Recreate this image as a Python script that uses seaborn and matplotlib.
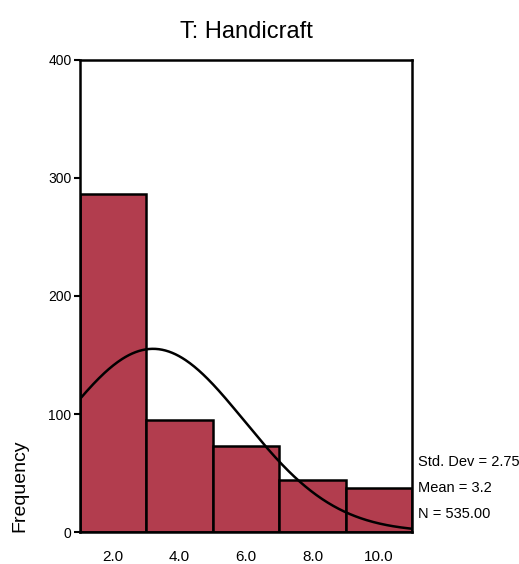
import numpy as np
import pandas as pd
import matplotlib
matplotlib.use("Agg")
import matplotlib.pyplot as plt
import seaborn as sns

centros = [2.0, 4.0, 6.0, 8.0, 10.0]
frequencias = [286, 95, 73, 44, 37]
rotulos_x = ["2.0", "4.0", "6.0", "8.0", "10.0"]
ticks_y = [0, 100, 200, 300, 400]

media = 3.2
desvio = 2.75
n_total = 535.0
largura_bin = 2.0

sns.set_theme(style="white")
plt.rcParams["font.family"] = ["Liberation Sans", "DejaVu Sans"]
plt.rcParams["text.color"] = "black"
plt.rcParams["axes.labelcolor"] = "black"
plt.rcParams["xtick.color"] = "black"
plt.rcParams["ytick.color"] = "black"

fig = plt.figure(figsize=(5.19, 5.64), dpi=100)
ax = fig.add_axes([0.154, 0.0567, 0.640, 0.837])

df = pd.DataFrame({"valor": centros, "freq": frequencias})
sns.histplot(data=df, x="valor", weights="freq", binwidth=largura_bin, binrange=(1, 11),
             color="#b23d4e", alpha=1, edgecolor="black", linewidth=1.8, ax=ax)

# curva normal ajustada (media, desvio, N)
xs = np.linspace(1, 11, 300)
ys = n_total * largura_bin / (desvio * np.sqrt(2 * np.pi)) * np.exp(-0.5 * ((xs - media) / desvio) ** 2)
sns.lineplot(x=xs, y=ys, color="black", linewidth=1.8, ax=ax)

ax.set_xlim(1, 11)
ax.set_ylim(0, 400)
ax.set_xticks(centros)
ax.set_xticklabels(rotulos_x, fontsize=11)
ax.set_yticks(ticks_y)
ax.set_yticklabels([str(t) for t in ticks_y], fontsize=10)
ax.tick_params(axis="y", which="both", left=True, length=4, width=1.5, color="black", pad=2)
ax.tick_params(axis="x", bottom=False, pad=7)
for s in ax.spines.values():
    s.set_visible(True)
    s.set_color("black")
    s.set_linewidth(1.8)

ax.set_xlabel("")
ax.set_ylabel("Frequency", fontsize=14, loc="bottom", labelpad=14)
ax.set_title("T: Handicraft", fontsize=17, pad=16)

ax.text(1.018, 0.148, f"Std. Dev = {desvio:.2f}", transform=ax.transAxes, fontsize=10.5, va="center")
ax.text(1.018, 0.093, f"Mean = {media:.1f}", transform=ax.transAxes, fontsize=10.5, va="center")
ax.text(1.018, 0.038, f"N = {n_total:.2f}", transform=ax.transAxes, fontsize=10.5, va="center")

fig.savefig("out.png", dpi=100)
